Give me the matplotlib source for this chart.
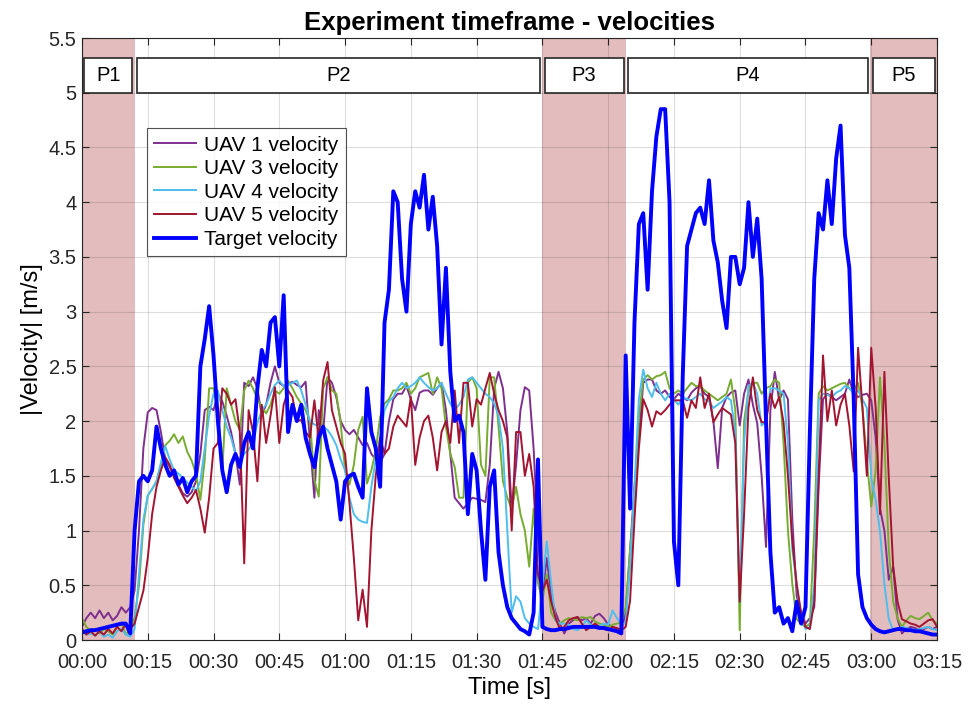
import numpy as np
import matplotlib
matplotlib.use("Agg")
import matplotlib.pyplot as plt
from matplotlib.ticker import FuncFormatter, MultipleLocator

plt.rcParams['font.family'] = ['Liberation Sans', 'DejaVu Sans']

# sample times [s], one sample per second
time_s = np.arange(0, 196)

target_vel = [
    0.07, 0.08, 0.09, 0.09, 0.10, 0.11, 0.12, 0.13, 0.14, 0.15,
    0.15, 0.06, 1.00, 1.45, 1.50, 1.45, 1.55, 1.95, 1.75, 1.60,
    1.50, 1.55, 1.42, 1.48, 1.35, 1.45, 1.50, 2.50, 2.75, 3.05,
    2.60, 2.00, 1.55, 1.35, 1.60, 1.70, 1.58, 1.80, 1.90, 1.75,
    2.30, 2.65, 2.50, 2.90, 2.95, 2.50, 3.15, 1.90, 2.15, 2.00,
    2.15, 1.85, 1.70, 1.58, 1.85, 1.95, 1.75, 1.60, 1.45, 1.10,
    1.45, 1.50, 1.52, 1.40, 1.30, 2.30, 1.90, 1.75, 1.40, 2.90,
    3.20, 4.10, 4.00, 3.30, 3.00, 3.80, 4.10, 3.95, 4.25, 3.75,
    4.05, 3.60, 2.70, 3.40, 2.45, 2.00, 2.05, 1.90, 1.15, 1.70,
    1.55, 1.00, 0.55, 1.40, 1.55, 0.80, 0.50, 0.30, 0.20, 0.15,
    0.10, 0.08, 0.05, 0.25, 1.65, 0.12, 0.10, 0.09, 0.09, 0.10,
    0.10, 0.11, 0.12, 0.12, 0.12, 0.12, 0.12, 0.12, 0.11, 0.11,
    0.10, 0.09, 0.08, 0.06, 2.60, 1.20, 2.90, 3.80, 3.90, 3.20,
    4.10, 4.60, 4.85, 4.85, 4.00, 0.90, 0.50, 2.40, 3.60, 3.75,
    3.90, 3.95, 3.80, 4.20, 3.65, 3.45, 3.10, 2.85, 3.50, 3.50,
    3.25, 3.40, 4.00, 3.50, 3.85, 3.30, 2.00, 0.80, 0.25, 0.30,
    0.15, 0.20, 0.08, 0.35, 0.15, 0.30, 1.90, 3.30, 3.90, 3.75,
    4.20, 3.80, 4.40, 4.70, 3.70, 3.40, 2.20, 0.60, 0.30, 0.20,
    0.14, 0.10, 0.08, 0.07, 0.08, 0.09, 0.10, 0.10, 0.09, 0.09,
    0.08, 0.08, 0.07, 0.06, 0.05, 0.05,
]

uav1_vel = [
    0.12, 0.20, 0.25, 0.20, 0.27, 0.20, 0.25, 0.18, 0.22, 0.30,
    0.25, 0.30, 0.45, 1.00, 1.75, 2.08, 2.12, 2.10, 1.90, 1.65,
    1.58, 1.50, 1.42, 1.34, 1.31, 1.35, 1.45, 1.70, 2.10, 2.13,
    2.10, 2.25, 2.18, 2.05, 1.90, 1.70, 1.42, 2.35, 2.32, 2.40,
    2.30, 2.05, 2.15, 2.35, 2.50, 2.35, 2.32, 2.34, 2.36, 2.33,
    2.31, 2.36, 1.80, 1.30, 2.10, 1.90, 2.40, 2.35, 2.22, 2.00,
    1.92, 1.88, 1.92, 1.85, 1.78, 1.80, 1.70, 1.65, 1.62, 1.70,
    2.00, 2.20, 2.25, 2.25, 2.32, 2.20, 2.10, 2.26, 2.28, 2.28,
    2.24, 2.30, 2.35, 2.10, 1.70, 1.30, 1.25, 1.20, 1.25, 1.30,
    1.29, 1.28, 1.26, 1.60, 2.30, 2.45, 2.30, 1.90, 1.20, 1.60,
    2.10, 2.31, 2.28, 1.75, 0.95, 0.40, 0.75, 0.40, 0.25, 0.15,
    0.06, 0.15, 0.18, 0.21, 0.18, 0.20, 0.15, 0.22, 0.24, 0.20,
    0.14, 0.12, 0.10, 0.09, 0.25, 0.82, 1.40, 1.85, 2.35, 2.38,
    2.38, 2.28, 2.25, 2.28, 2.22, 2.20, 2.25, 2.22, 2.19, 2.26,
    2.30, 2.32, 2.25, 2.22, 2.00, 1.57, 2.12, 2.22, 2.26, 2.28,
    1.96, 2.25, 2.38, 2.15, 1.98, 1.50, 0.85, 2.10, 2.45, 2.19,
    2.28, 2.20, 1.10, 0.40, 0.25, 0.15, 0.20, 0.30, 1.40, 2.20,
    2.25, 2.22, 2.19, 2.22, 2.25, 2.38, 2.25, 2.22, 2.24, 2.25,
    2.19, 1.85, 1.20, 1.00, 0.55, 0.67, 0.19, 0.06, 0.10, 0.12,
    0.11, 0.09, 0.10, 0.12, 0.10, 0.12,
]

uav3_vel = [
    0.20, 0.12, 0.08, 0.10, 0.06, 0.10, 0.08, 0.05, 0.12, 0.15,
    0.05, 0.10, 0.20, 0.50, 1.05, 1.32, 1.38, 1.45, 1.60, 1.78,
    1.82, 1.88, 1.80, 1.86, 1.72, 1.64, 1.52, 1.28, 1.65, 2.30,
    2.30, 2.10, 1.55, 2.30, 2.15, 2.00, 1.92, 2.28, 2.37, 2.30,
    2.20, 2.13, 2.07, 2.15, 2.28, 2.25, 2.30, 2.37, 2.30, 2.22,
    2.16, 2.10, 2.00, 1.46, 1.31, 2.30, 2.40, 2.28, 2.25, 1.98,
    1.55, 1.42, 1.60, 1.92, 2.04, 1.43, 1.55, 1.73, 2.04, 2.16,
    2.20, 2.28, 2.28, 2.30, 2.35, 2.25, 2.30, 2.40, 2.42, 2.44,
    2.25, 2.40, 2.30, 1.95, 1.70, 1.58, 1.30, 1.30, 2.35, 2.40,
    2.30, 1.60, 1.50, 2.40, 2.40, 1.95, 1.45, 1.30, 1.20, 1.40,
    1.15, 1.00, 0.67, 1.20, 0.52, 0.36, 0.60, 0.25, 0.18, 0.15,
    0.18, 0.20, 0.19, 0.18, 0.21, 0.20, 0.21, 0.17, 0.15, 0.14,
    0.12, 0.14, 0.15, 0.16, 0.30, 0.82, 1.28, 2.04, 2.38, 2.42,
    2.38, 2.41, 2.42, 2.45, 2.30, 2.25, 2.28, 2.25, 2.30, 2.35,
    2.32, 2.32, 2.28, 2.25, 2.22, 2.19, 2.22, 2.25, 2.38, 2.10,
    0.09, 2.00, 2.28, 2.35, 2.35, 2.25, 2.30, 2.32, 2.38, 2.35,
    1.80, 1.00, 0.51, 0.19, 0.15, 0.12, 0.15, 1.00, 2.25, 2.32,
    2.28, 2.30, 2.32, 2.34, 2.35, 2.30, 2.28, 2.35, 2.12, 1.64,
    1.22, 1.55, 2.40, 1.80, 0.83, 0.35, 0.20, 0.12, 0.18, 0.22,
    0.20, 0.19, 0.22, 0.25, 0.18, 0.15,
]

uav4_vel = [
    0.08, 0.05, 0.06, 0.04, 0.08, 0.03, 0.05, 0.02, 0.08, 0.10,
    0.05, 0.03, 0.10, 0.60, 1.10, 1.32, 1.38, 1.45, 1.62, 1.77,
    1.65, 1.55, 1.52, 1.48, 1.44, 1.40, 1.36, 1.45, 1.75, 2.05,
    2.25, 2.28, 2.10, 1.95, 1.85, 1.70, 1.64, 1.70, 1.74, 1.80,
    1.98, 2.10, 2.15, 2.25, 2.33, 2.37, 2.32, 2.33, 2.35, 2.37,
    2.28, 2.15, 2.00, 1.97, 1.95, 1.95, 1.92, 1.86, 1.78, 1.65,
    1.55, 1.30, 1.15, 1.10, 1.08, 1.07, 1.40, 1.65, 1.85, 2.10,
    2.18, 2.22, 2.30, 2.35, 2.30, 2.32, 2.35, 2.40, 2.35, 2.31,
    2.28, 2.30, 2.35, 2.25, 2.16, 2.10, 2.15, 2.22, 2.38, 2.40,
    2.35, 2.30, 2.25, 2.22, 2.16, 2.05, 1.75, 1.00, 0.25, 0.40,
    0.35, 0.20, 0.15, 0.12, 0.10, 0.50, 0.90, 0.52, 0.18, 0.15,
    0.15, 0.14, 0.10, 0.09, 0.12, 0.18, 0.14, 0.12, 0.13, 0.15,
    0.14, 0.27, 0.20, 0.15, 0.15, 0.67, 1.40, 2.20, 2.47, 2.30,
    2.22, 2.35, 2.25, 2.19, 2.25, 2.20, 2.15, 2.22, 2.20, 2.19,
    2.22, 2.25, 2.20, 2.18, 2.12, 2.15, 2.18, 2.22, 2.19, 1.90,
    0.35, 1.80, 2.32, 2.35, 2.25, 1.96, 2.00, 2.30, 2.30, 2.28,
    2.25, 1.80, 0.83, 0.51, 0.20, 0.10, 0.12, 0.50, 2.19, 2.25,
    2.24, 2.22, 2.26, 2.28, 2.32, 2.30, 2.25, 2.28, 2.20, 2.12,
    1.48, 1.28, 0.99, 0.51, 0.19, 0.09, 0.10, 0.12, 0.11, 0.10,
    0.09, 0.10, 0.11, 0.12, 0.10, 0.09,
]

uav5_vel = [
    0.10, 0.05, 0.08, 0.04, 0.08, 0.05, 0.10, 0.06, 0.12, 0.08,
    0.15, 0.10, 0.15, 0.30, 0.45, 0.75, 1.15, 1.40, 1.55, 1.67,
    1.60, 1.48, 1.40, 1.32, 1.25, 1.30, 1.37, 1.20, 0.98, 1.30,
    1.75, 1.80, 2.30, 2.25, 2.15, 2.20, 1.90, 0.70, 2.10, 1.90,
    1.45, 2.15, 1.80, 2.05, 2.31, 1.80, 2.15, 2.28, 2.22, 2.00,
    2.01, 1.90, 1.85, 2.19, 1.83, 2.37, 2.54, 2.10, 1.95, 1.80,
    1.70, 1.25, 0.75, 0.18, 0.46, 0.12, 1.00, 1.50, 1.85, 1.70,
    1.75, 1.95, 2.05, 2.00, 1.95, 2.22, 1.60, 1.85, 2.00, 2.05,
    1.85, 1.55, 1.90, 2.00, 1.80, 2.28, 1.80, 2.35, 2.35, 1.95,
    2.20, 2.15, 2.30, 2.44, 2.25, 2.10, 2.00, 1.85, 1.00, 1.90,
    1.90, 1.50, 1.70, 1.40, 0.60, 0.45, 0.55, 0.35, 0.20, 0.10,
    0.12, 0.18, 0.20, 0.21, 0.15, 0.09, 0.12, 0.15, 0.12, 0.10,
    0.09, 0.12, 0.11, 0.09, 0.12, 0.36, 1.10, 1.75, 2.20, 2.10,
    1.95, 2.09, 2.06, 2.10, 2.15, 2.19, 2.19, 2.19, 2.03, 2.19,
    2.12, 2.40, 2.12, 2.25, 1.99, 2.06, 2.12, 2.09, 2.06, 1.80,
    0.35, 1.15, 2.12, 2.40, 2.10, 1.99, 1.99, 2.25, 2.12, 2.22,
    1.99, 1.50, 0.90, 0.51, 0.25, 0.12, 0.10, 0.35, 1.50, 2.60,
    2.00, 2.28, 1.96, 2.15, 2.25, 1.96, 1.54, 2.67, 2.12, 1.50,
    2.67, 2.12, 1.15, 2.45, 1.48, 0.67, 0.35, 0.19, 0.17, 0.15,
    0.14, 0.12, 0.15, 0.18, 0.19, 0.12,
]

# experiment phases: boundaries [s] and names
phase_edges = [0, 12, 105, 124, 179.8, 195]
phase_names = ['P1', 'P2', 'P3', 'P4', 'P5']

fig = plt.figure(figsize=(9.69, 7.09), dpi=100)
ax = fig.add_axes([0.0846, 0.0973, 0.8824, 0.8491])

# shaded hover phases
for i in (0, 2, 4):
    ax.axvspan(phase_edges[i], phase_edges[i + 1], color='#e3bcbd', lw=0, zorder=0.5)

ax.plot(time_s, uav1_vel, color='#7E2F8E', lw=1.4, label='UAV 1 velocity')
ax.plot(time_s, uav3_vel, color='#77AC30', lw=1.4, label='UAV 3 velocity')
ax.plot(time_s, uav4_vel, color='#4DBEEE', lw=1.4, label='UAV 4 velocity')
ax.plot(time_s, uav5_vel, color='#A2142F', lw=1.4, label='UAV 5 velocity')
ax.plot(time_s, target_vel, color='#0000FF', lw=2.8, label='Target velocity')

# phase label boxes along the top
for i, name in enumerate(phase_names):
    x0, x1 = phase_edges[i] + 0.5, phase_edges[i + 1] - 0.5
    ax.add_patch(plt.Rectangle((x0, 5.0), x1 - x0, 0.315, facecolor='white',
                               edgecolor='#262626', lw=1.2, zorder=5))
    ax.text((x0 + x1) / 2, 5.157, name, ha='center', va='center',
            fontsize=14.5, zorder=6)

ax.set_xlim(0, 195)
ax.set_ylim(0, 5.5)
ax.xaxis.set_major_locator(MultipleLocator(15))
ax.yaxis.set_major_locator(MultipleLocator(0.5))
ax.xaxis.set_major_formatter(FuncFormatter(lambda s, p: '%02d:%02d' % (s // 60, s % 60)))
ax.yaxis.set_major_formatter(FuncFormatter(lambda v, p: '%g' % v))
ax.tick_params(direction='in', length=5, width=0.8, colors='#262626',
               labelsize=14.5, top=True, right=True, pad=4)
ax.tick_params(axis='x', labelsize=14.5, pad=9)
ax.grid(True, color='#262626', alpha=0.15, lw=0.8)
for sp in ax.spines.values():
    sp.set_color('#262626')
    sp.set_linewidth(0.8)

ax.set_title('Experiment timeframe - velocities', fontsize=18.5, fontweight='bold', pad=6)
ax.set_xlabel('Time [s]', fontsize=17, labelpad=4)
ax.set_ylabel('|Velocity| [m/s]', fontsize=17, labelpad=4)

leg = ax.legend(loc='upper left', bbox_to_anchor=(0.076, 0.850), borderaxespad=0,
                fontsize=15, frameon=True, fancybox=False, edgecolor='#262626',
                handlelength=2.0, labelspacing=0.22, borderpad=0.35, handletextpad=0.4)
leg.get_frame().set_linewidth(0.8)

fig.savefig('out.png', dpi=100)
